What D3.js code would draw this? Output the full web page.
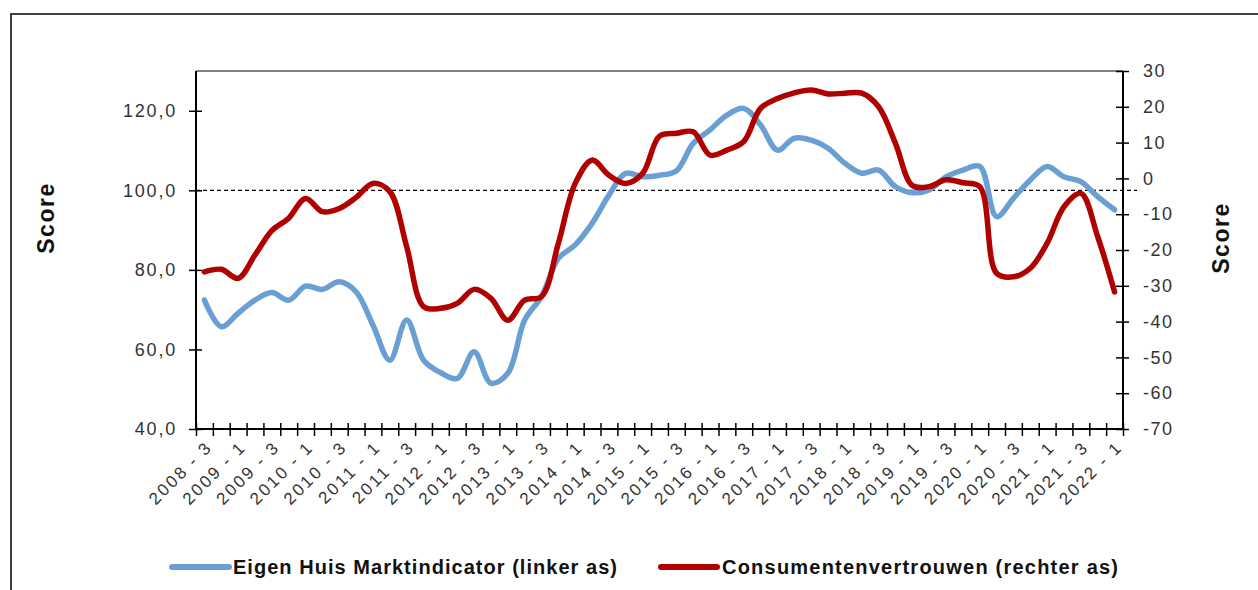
<!DOCTYPE html>
<html>
<head>
<meta charset="utf-8">
<script src="https://cdn.jsdelivr.net/npm/d3@7"></script>
<style>
  html, body { margin: 0; padding: 0; background: #fff; }
  svg { display: block; font-family: "Liberation Sans", Arial, sans-serif; }
</style>
</head>
<body>
<svg id="chart" width="1258" height="590"></svg>
<script>
const categories = [
  "2008 - 3","2008 - 4",
  "2009 - 1","2009 - 2","2009 - 3","2009 - 4",
  "2010 - 1","2010 - 2","2010 - 3","2010 - 4",
  "2011 - 1","2011 - 2","2011 - 3","2011 - 4",
  "2012 - 1","2012 - 2","2012 - 3","2012 - 4",
  "2013 - 1","2013 - 2","2013 - 3","2013 - 4",
  "2014 - 1","2014 - 2","2014 - 3","2014 - 4",
  "2015 - 1","2015 - 2","2015 - 3","2015 - 4",
  "2016 - 1","2016 - 2","2016 - 3","2016 - 4",
  "2017 - 1","2017 - 2","2017 - 3","2017 - 4",
  "2018 - 1","2018 - 2","2018 - 3","2018 - 4",
  "2019 - 1","2019 - 2","2019 - 3","2019 - 4",
  "2020 - 1","2020 - 2","2020 - 3","2020 - 4",
  "2021 - 1","2021 - 2","2021 - 3","2021 - 4",
  "2022 - 1"
];

// Eigen Huis Marktindicator (left axis)
const ehmValues = [
  72.4, 65.7, 69.1, 72.4, 74.3, 72.4, 75.9, 75.1, 77.0, 74.5,
  66.1, 57.3, 67.4, 57.3, 54.2, 52.7, 59.4, 51.5, 54.0, 67.4,
  73.3, 82.9, 86.3, 91.7, 98.8, 104.3, 103.4, 103.8, 104.9, 111.8,
  115.2, 118.9, 120.6, 116.4, 110.1, 113.1, 112.6, 110.6, 106.8, 104.3,
  105.1, 100.9, 99.4, 100.1, 103.4, 105.1, 106.0, 93.4, 98.0, 102.6,
  106.0, 103.4, 102.2, 98.4, 95.1
];

// Consumentenvertrouwen (right axis)
const cvValues = [
  -26.1, -25.4, -27.9, -21.4, -14.6, -11.1, -5.6, -9.3, -8.4, -5.3,
  -1.4, -3.7, -19.1, -35.8, -36.3, -34.9, -31.0, -33.5, -39.6, -34.0,
  -33.0, -18.1, -1.4, 5.1, 0.9, -1.4, 1.4, 11.8, 12.6, 13.0,
  6.5, 7.9, 10.3, 19.6, 22.3, 23.9, 24.7, 23.6, 23.8, 23.8,
  20.0, 9.8, -2.0, -2.3, -0.4, -1.2, -2.3, -26.5, -27.5, -25.1,
  -18.1, -7.9, -4.2, -16.3, -31.7
];

const leftTicks = [40, 60, 80, 100, 120];
const rightTicks = [-70, -60, -50, -40, -30, -20, -10, 0, 10, 20, 30];
const referenceValue = 100;

const seriesNames = ["Eigen Huis Marktindicator (linker as)", "Consumentenvertrouwen (rechter as)"];
const seriesColors = ["#6a9fd3", "#b00000"];

const svg = d3.select("#chart");
const L = 196, R = 1123, T = 71, B = 429;
const FONT = "'Liberation Sans', Arial, sans-serif";

// outer frame
svg.append("rect").attr("x", 11).attr("y", 14).attr("width", 1260).attr("height", 600)
  .attr("fill", "none").attr("stroke", "#000").attr("stroke-width", 1.5);

const x = d3.scaleBand().domain(categories).range([L, R]).padding(0);
const xEdge = d3.scaleLinear().domain([0, categories.length]).range([L, R]);
const yL = d3.scaleLinear().domain([40, 130]).range([B, T]);
const yR = d3.scaleLinear().domain([-70, 30]).range([B, T]);
const cx = c => x(c) + x.bandwidth() / 2;

// plot top border
svg.append("line").attr("x1", L).attr("x2", R).attr("y1", T).attr("y2", T)
  .attr("stroke", "#7f7f7f").attr("stroke-width", 2);

// reference dashed line
svg.append("line").attr("x1", L).attr("x2", R + 14)
  .attr("y1", yL(referenceValue)).attr("y2", yL(referenceValue))
  .attr("stroke", "#000").attr("stroke-width", 1.3).attr("stroke-dasharray", "4,3");

// left axis
const gL = svg.append("g").attr("transform", `translate(${L},0)`)
  .call(d3.axisLeft(yL).tickValues(leftTicks).tickSize(7).tickFormat(d => d3.format(".1f")(d).replace(".", ",")));
gL.select(".domain").attr("stroke", "#000").attr("stroke-width", 2).attr("d", `M0,${T}V${B}`);
gL.selectAll(".tick line").attr("x1", -7).attr("x2", 6).attr("stroke", "#000").attr("stroke-width", 1.5);
gL.selectAll(".tick text").attr("x", -19).attr("font-size", 18).attr("fill", "#333")
  .attr("letter-spacing", 1.8).attr("font-family", FONT);

// right axis
const gR = svg.append("g").attr("transform", `translate(${R},0)`)
  .call(d3.axisRight(yR).tickValues(rightTicks).tickSize(7).tickFormat(d => String(d)));
gR.select(".domain").attr("stroke", "#000").attr("stroke-width", 2).attr("d", `M0,${T}V${B}`);
gR.selectAll(".tick line").attr("x1", -7).attr("x2", 6).attr("stroke", "#000").attr("stroke-width", 1.5);
gR.selectAll(".tick text").attr("x", 20).attr("font-size", 18).attr("fill", "#333")
  .attr("letter-spacing", 1.5).attr("font-family", FONT);

// bottom axis: boundary ticks
const gE = svg.append("g").attr("transform", `translate(0,${B})`)
  .call(d3.axisBottom(xEdge).tickValues(d3.range(categories.length + 1)).tickSize(7).tickFormat(""));
gE.select(".domain").attr("stroke", "#000").attr("stroke-width", 2).attr("d", `M${L},0H${R}`);
gE.selectAll(".tick line").attr("y1", -6).attr("y2", 7).attr("stroke", "#000").attr("stroke-width", 1.5);

// bottom axis: category labels
const gX = svg.append("g").attr("transform", `translate(0,${B})`)
  .call(d3.axisBottom(x).tickSize(0).tickFormat((d, i) => i % 2 === 0 ? d : ""));
gX.select(".domain").remove();
gX.selectAll(".tick text")
  .attr("text-anchor", "end").attr("dy", null).attr("y", 0)
  .attr("transform", "translate(9,19) rotate(-45)")
  .attr("font-size", 17).attr("fill", "#333").attr("letter-spacing", 2.4)
  .attr("font-family", FONT);

// lines
const lineL = d3.line().x((d, i) => cx(categories[i])).y(d => yL(d)).curve(d3.curveCatmullRom.alpha(0.5));
const lineR = d3.line().x((d, i) => cx(categories[i])).y(d => yR(d)).curve(d3.curveCatmullRom.alpha(0.5));

svg.append("path").datum(ehmValues).attr("d", lineL).attr("fill", "none")
  .attr("stroke", seriesColors[0]).attr("stroke-width", 5.5).attr("stroke-linejoin", "round").attr("stroke-linecap", "round");
svg.append("path").datum(cvValues).attr("d", lineR).attr("fill", "none")
  .attr("stroke", seriesColors[1]).attr("stroke-width", 5.5).attr("stroke-linejoin", "round").attr("stroke-linecap", "round");

// axis titles
svg.append("text").attr("transform", "translate(54,218) rotate(-90)").attr("text-anchor", "middle")
  .attr("font-size", 23).attr("font-weight", "bold").attr("letter-spacing", 1.5).attr("fill", "#111").text("Score");
svg.append("text").attr("transform", "translate(1229,238) rotate(-90)").attr("text-anchor", "middle")
  .attr("font-size", 23).attr("font-weight", "bold").attr("letter-spacing", 1.5).attr("fill", "#111").text("Score");

// legend
const legend = [
  { x1: 172, x2: 229, tx: 233, tw: 384 },
  { x1: 661, x2: 717, tx: 722, tw: 396 }
];
legend.forEach((lg, i) => {
  svg.append("line").attr("x1", lg.x1).attr("x2", lg.x2).attr("y1", 567).attr("y2", 567)
    .attr("stroke", seriesColors[i]).attr("stroke-width", 6).attr("stroke-linecap", "round");
  svg.append("text").attr("x", lg.tx).attr("y", 574).attr("font-size", 20).attr("font-weight", "bold")
    .attr("fill", "#111").attr("textLength", lg.tw).attr("lengthAdjust", "spacing").text(seriesNames[i]);
});
</script>
</body>
</html>
